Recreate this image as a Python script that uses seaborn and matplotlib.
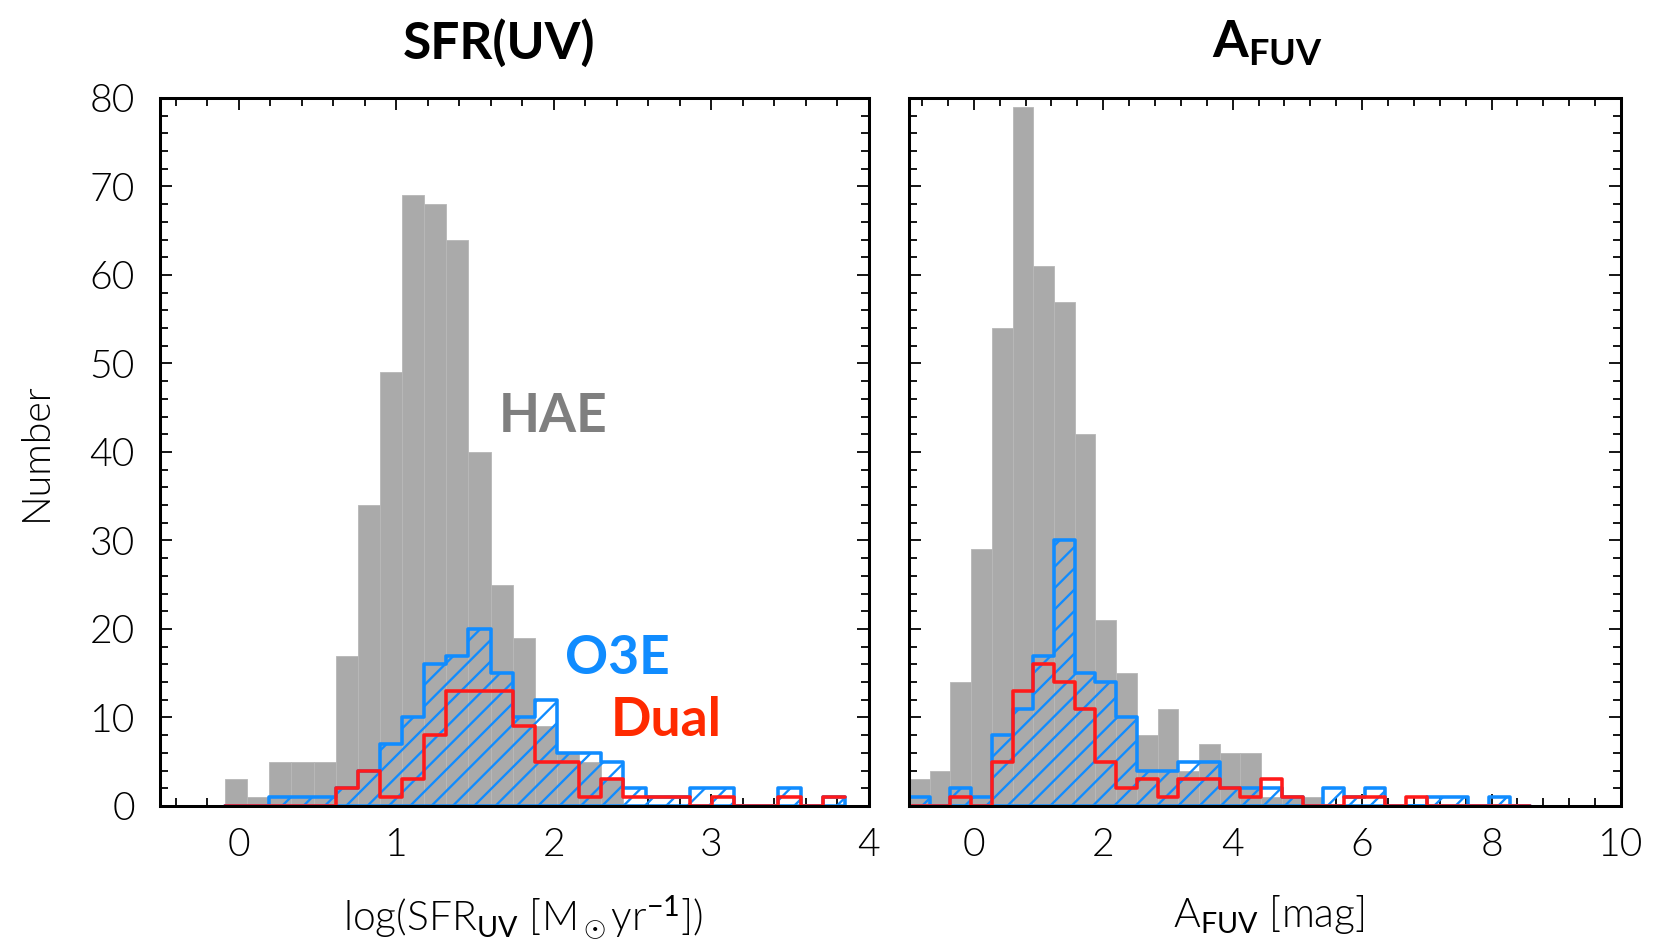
import numpy as np
import pandas as pd
import seaborn as sns
import matplotlib.pyplot as plt
from matplotlib.ticker import MultipleLocator

# left panel: log(SFR_UV), bins of ~0.14 dex starting at -0.087
sfr_start, sfr_width = -0.087, 0.1405
sfr_hae = [3, 1, 5, 5, 5, 17, 34, 49, 69, 68, 64, 40, 25, 19, 9, 6, 5, 3,
           0, 0, 0, 0, 0, 0, 0, 0, 0, 0]
sfr_o3e = [0, 0, 1, 1, 1, 2, 4, 7, 10, 16, 17, 20, 15, 10, 12, 6, 6, 5,
           2, 1, 1, 2, 2, 0, 0, 2, 0, 1]
sfr_dual = [0, 0, 0, 0, 0, 2, 4, 1, 3, 8, 13, 13, 13, 9, 5, 5, 1, 3,
            1, 1, 1, 0, 1, 0, 0, 1, 0, 1]

# right panel: A_FUV, bins of 0.32 mag starting at -1
afuv_start, afuv_width = -1.0, 0.32
afuv_hae = [3, 4, 14, 29, 54, 79, 61, 57, 42, 21, 15, 8, 11, 4, 7, 6, 6, 1,
            1, 1, 0, 0, 0, 0, 0, 0, 0, 0, 0, 0]
afuv_o3e = [1, 0, 2, 1, 8, 11, 17, 30, 15, 14, 10, 4, 4, 5, 5, 2, 2, 2,
            1, 0, 2, 1, 2, 0, 0, 1, 1, 0, 1, 0]
afuv_dual = [0, 0, 1, 0, 5, 13, 16, 14, 11, 5, 2, 3, 1, 3, 3, 2, 1, 3,
             1, 0, 0, 1, 1, 0, 1, 0, 0, 0, 0, 0]

GRAY = '#aaaaaa'
BLUE = '#108cff'
RED = '#ff1a1a'
DPI = 128
LIGHT = 300

sns.set_theme(style='ticks')
plt.rcParams['font.family'] = ['Lato', 'DejaVu Sans']
plt.rcParams['text.color'] = 'black'
plt.rcParams['axes.labelcolor'] = 'black'
plt.rcParams['mathtext.fontset'] = 'custom'
plt.rcParams['mathtext.rm'] = 'Lato'
plt.rcParams['mathtext.it'] = 'Lato:italic'
plt.rcParams['mathtext.bf'] = 'Lato:bold'
plt.rcParams['hatch.linewidth'] = 1.3
plt.rcParams['hatch.color'] = BLUE


def draw_panel(ax, start, width, hae, o3e, dual):
    n = len(hae)
    edges = start + width * np.arange(n + 1)
    bins = [float(e) for e in edges]
    df = pd.DataFrame({'x': edges[:-1] + width / 2,
                       'hae': hae, 'o3e': o3e, 'dual': dual})

    sns.histplot(data=df, x='x', weights='hae', bins=bins, ax=ax, color=GRAY,
                 alpha=1, edgecolor='#b8b8b8', linewidth=0.5)

    sns.histplot(data=df, x='x', weights='o3e', bins=bins, ax=ax,
                 element='step', fill=True, color=BLUE, alpha=1)
    poly = ax.collections[-1]
    poly.set_facecolor('none')
    poly.set_edgecolor(BLUE)
    poly.set_hatch('//')
    poly.set_linewidth(2.0)

    sns.histplot(data=df, x='x', weights='dual', bins=bins, ax=ax,
                 element='step', fill=False, color=RED, linewidth=2.0)

    ax.set_ylim(0, 80)
    ax.yaxis.set_major_locator(MultipleLocator(10))
    ax.yaxis.set_minor_locator(MultipleLocator(2))
    ax.tick_params(which='both', direction='in', top=True, right=True,
                   color='black', labelsize=22, labelcolor='black')
    ax.tick_params(which='major', length=7, width=1.0)
    ax.tick_params(which='minor', length=4.5, width=1.0)
    ax.tick_params(axis='x', pad=12)
    ax.tick_params(axis='y', pad=14)
    for sp in ax.spines.values():
        sp.set_visible(True)
        sp.set_color('black')
        sp.set_linewidth(1.7)


fig = plt.figure(figsize=(1671 / DPI, 943 / DPI), dpi=DPI)
ax1 = fig.add_axes([0.0957, 0.1453, 0.4243, 0.7508])
ax2 = fig.add_axes([0.544, 0.1453, 0.4261, 0.7508])

draw_panel(ax1, sfr_start, sfr_width, sfr_hae, sfr_o3e, sfr_dual)
ax1.set_xlim(-0.5, 4)
ax1.xaxis.set_major_locator(MultipleLocator(1))
ax1.xaxis.set_minor_locator(MultipleLocator(0.2))
ax1.set_xlabel(r'log(SFR$_{\rm UV}$ [M$_\odot$yr$^{-1}$])', fontsize=23,
               fontweight=LIGHT)
ax1.xaxis.set_label_coords(0.512, -0.123)
ax1.set_ylabel('Number', fontsize=22, fontweight=LIGHT)
ax1.yaxis.set_label_coords(-0.15, 0.5)

draw_panel(ax2, afuv_start, afuv_width, afuv_hae, afuv_o3e, afuv_dual)
ax2.set_xlim(-1, 10)
ax2.xaxis.set_major_locator(MultipleLocator(2))
ax2.xaxis.set_minor_locator(MultipleLocator(0.4))
ax2.tick_params(axis='y', labelleft=False)
ax2.set_ylabel('')
ax2.set_xlabel(r'A$_{\rm FUV}$ [mag]', fontsize=23, fontweight=LIGHT)
ax2.xaxis.set_label_coords(0.505, -0.123)

for ax in (ax1, ax2):
    for lab in ax.get_xticklabels() + ax.get_yticklabels():
        lab.set_fontweight(LIGHT)

# titles
ax1.text(0.478, 1.056, 'SFR(UV)', transform=ax1.transAxes, ha='center',
         va='baseline', fontsize=29, fontweight='bold', color='black')
ax2.text(0.503, 1.056, r'$\mathbf{A}_{\mathbf{FUV}}$', transform=ax2.transAxes,
         ha='center', va='baseline', fontsize=29, color='black')

# sample labels
ax1.text(1.65, 42.3, 'HAE', color='#7f7f7f', fontsize=30, fontweight='bold',
         va='baseline', ha='left')
ax1.text(2.07, 14.9, 'O3E', color=BLUE, fontsize=30, fontweight='bold',
         va='baseline', ha='left')
ax1.text(2.36, 7.95, 'Dual', color='#ff2a00', fontsize=30, fontweight='bold',
         va='baseline', ha='left')

fig.savefig('out.png', dpi=DPI)
